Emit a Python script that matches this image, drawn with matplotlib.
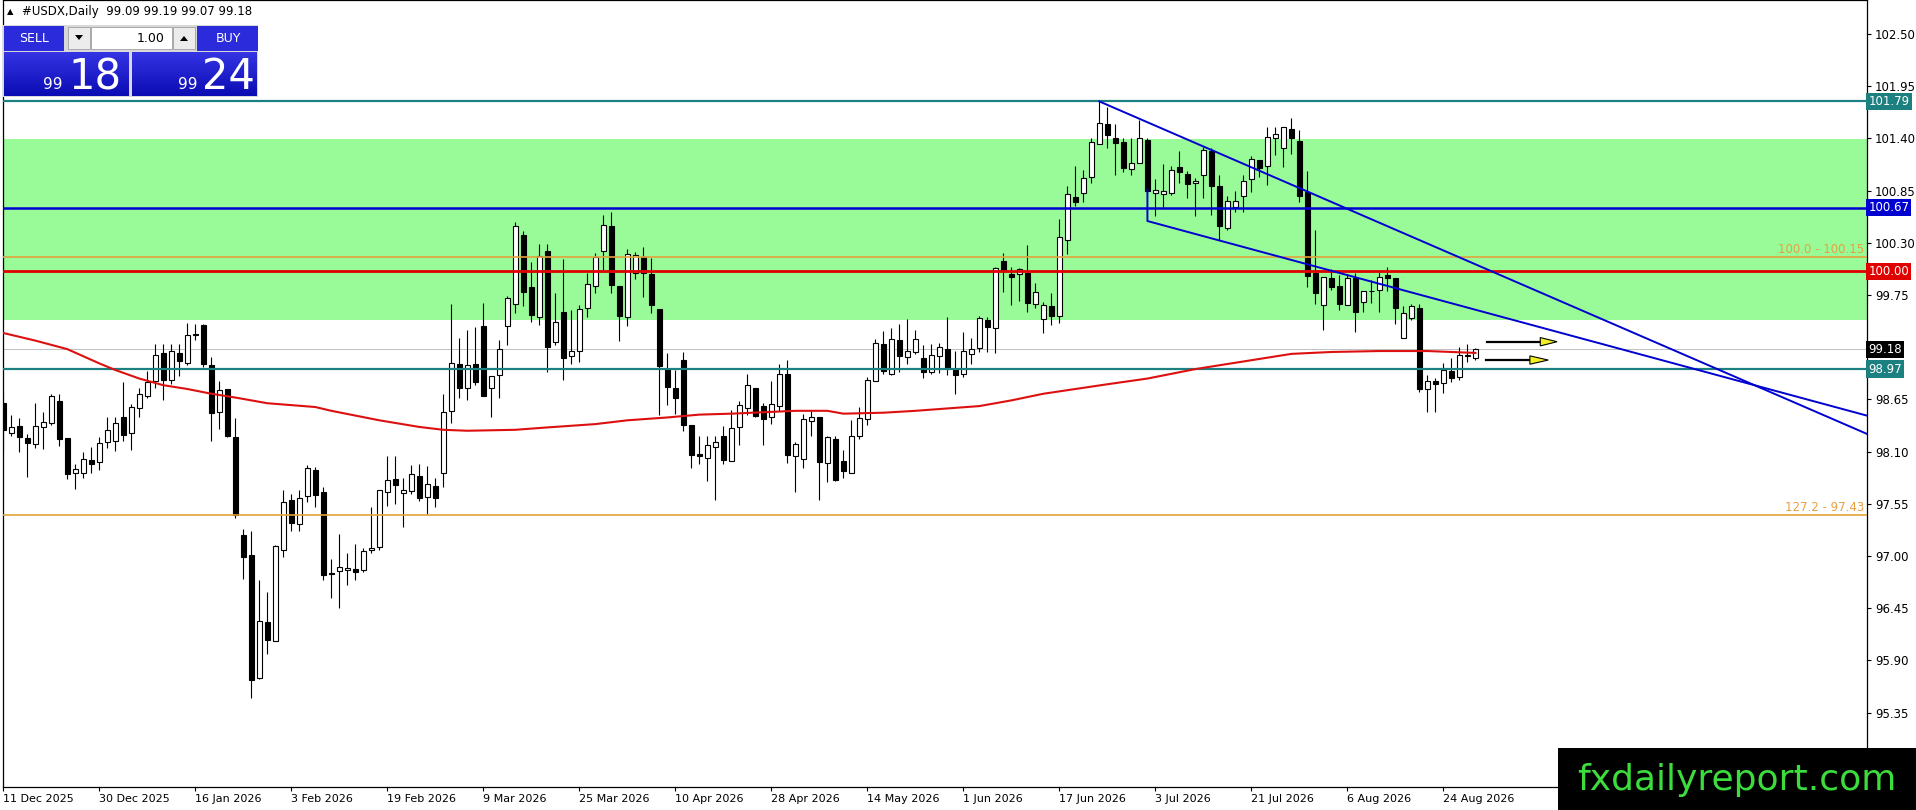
import numpy as np
import matplotlib
matplotlib.use("Agg")
import matplotlib.pyplot as plt
from matplotlib.patches import Rectangle, Polygon
from matplotlib.transforms import blended_transform_factory

# daily candles, oldest first
opens = [98.61, 98.30, 98.37, 98.24, 98.18, 98.36, 98.40, 98.63, 98.24, 97.87,
         97.88, 98.01, 97.99, 98.20, 98.21, 98.46, 98.30, 98.56, 98.69, 98.84,
         99.14, 98.86, 99.14, 99.03, 99.34, 99.43, 99.01, 98.52, 98.76, 98.25,
         97.22, 97.01, 95.71, 96.30, 96.10, 97.06, 97.59, 97.34, 97.63, 97.91,
         97.67, 96.82, 96.84, 96.85, 96.86, 96.85, 97.06, 97.09, 97.67, 97.81,
         97.66, 97.68, 97.84, 97.62, 97.74, 97.87, 98.53, 99.02, 98.77, 99.02,
         99.42, 98.77, 98.91, 99.42, 99.66, 100.38, 99.84, 99.52, 100.21, 99.26,
         99.57, 99.11, 99.16, 99.61, 99.85, 100.21, 100.48, 99.85, 99.52, 99.98,
         100.15, 99.97, 99.60, 98.97, 98.77, 99.07, 98.38, 98.08, 98.03, 98.15,
         98.26, 98.00, 98.36, 98.56, 98.77, 98.58, 98.46, 98.58, 98.92, 98.05,
         98.02, 98.42, 98.46, 97.98, 98.23, 98.00, 97.88, 98.26, 98.44, 98.84,
         99.23, 98.92, 99.28, 99.10, 99.15, 99.09, 98.94, 99.11, 99.18, 98.96,
         98.92, 99.13, 99.19, 99.49, 99.40, 100.11, 99.97, 99.97, 99.98, 99.66,
         99.50, 99.63, 99.53, 100.33, 100.78, 100.83, 100.99, 101.34, 101.55, 101.41,
         101.36, 101.08, 101.14, 101.38, 100.83, 100.81, 100.83, 101.10, 101.03, 100.93,
         101.02, 101.27, 100.90, 100.46, 100.68, 100.79, 100.97, 101.17, 101.11, 101.41,
         101.30, 101.50, 101.37, 100.84, 99.98, 99.65, 99.93, 99.85, 99.65, 99.93,
         99.68, 99.79, 99.80, 99.96, 99.93, 99.30, 99.51, 99.61, 98.76, 98.84,
         98.82, 98.95, 98.89, 99.11, 99.09]
highs = [98.73, 98.49, 98.45, 98.29, 98.61, 98.52, 98.71, 98.71, 98.24, 97.97,
         98.10, 98.15, 98.25, 98.47, 98.47, 98.83, 98.60, 98.77, 98.95, 99.23,
         99.23, 99.23, 99.23, 99.46, 99.45, 99.45, 99.10, 98.84, 98.76, 98.45,
         97.28, 97.26, 96.75, 96.62, 97.12, 97.70, 97.65, 97.70, 97.96, 97.94,
         97.73, 96.97, 97.23, 97.03, 97.13, 97.08, 97.52, 97.70, 98.05, 98.05,
         97.82, 97.96, 97.97, 97.95, 97.82, 98.71, 99.66, 99.30, 99.38, 99.41,
         99.67, 98.90, 99.28, 99.74, 100.52, 100.43, 100.10, 100.29, 100.29, 99.77,
         100.13, 99.59, 99.64, 99.98, 100.19, 100.59, 100.62, 99.85, 100.23, 100.20,
         100.26, 100.14, 99.60, 99.14, 98.96, 99.15, 98.38, 98.26, 98.26, 98.26,
         98.37, 98.54, 98.63, 98.92, 98.77, 98.61, 98.84, 99.02, 99.07, 98.20,
         98.50, 98.54, 98.46, 98.26, 98.26, 98.12, 98.43, 98.57, 98.89, 99.29,
         99.37, 99.40, 99.44, 99.50, 99.38, 99.22, 99.23, 99.24, 99.52, 99.16,
         99.36, 99.30, 99.53, 99.52, 100.05, 100.19, 100.05, 100.03, 100.28, 99.88,
         99.68, 99.77, 100.55, 100.90, 101.11, 101.07, 101.41, 101.79, 101.73, 101.55,
         101.40, 101.41, 101.59, 101.40, 100.97, 101.13, 101.11, 101.27, 101.06, 100.98,
         101.31, 101.30, 101.01, 100.79, 100.85, 101.01, 101.22, 101.17, 101.52, 101.52,
         101.52, 101.62, 101.49, 101.06, 100.44, 99.94, 100.02, 99.96, 99.97, 99.98,
         99.79, 99.91, 99.99, 100.05, 99.93, 99.63, 99.66, 99.66, 98.91, 98.88,
         99.03, 99.09, 99.20, 99.23, 99.19]
lows = [98.10, 98.26, 98.10, 97.83, 98.14, 98.13, 98.38, 98.16, 97.81, 97.71,
        97.82, 97.87, 97.91, 98.14, 98.11, 98.21, 98.12, 98.47, 98.66, 98.77,
        98.64, 98.81, 98.90, 99.01, 99.28, 98.99, 98.21, 98.34, 98.25, 97.40,
        96.76, 95.50, 95.70, 95.97, 96.10, 96.99, 97.26, 97.26, 97.57, 97.52,
        96.75, 96.56, 96.45, 96.69, 96.75, 96.83, 97.03, 97.06, 97.53, 97.55,
        97.31, 97.65, 97.58, 97.44, 97.52, 97.73, 98.40, 98.67, 98.64, 98.80,
        98.69, 98.46, 98.67, 99.22, 99.56, 99.63, 99.47, 99.43, 98.94, 99.22,
        98.85, 99.02, 99.04, 99.52, 99.77, 100.01, 99.77, 99.27, 99.42, 99.92,
        99.73, 99.56, 98.49, 98.59, 98.50, 98.32, 97.93, 97.97, 97.79, 97.59,
        97.97, 98.00, 98.17, 98.49, 98.47, 98.17, 98.39, 98.53, 97.98, 97.67,
        97.93, 98.26, 97.59, 97.78, 97.79, 97.82, 97.88, 98.23, 98.38, 98.84,
        98.92, 98.91, 98.94, 99.02, 99.13, 98.88, 98.92, 98.93, 98.91, 98.71,
        98.89, 99.02, 99.15, 99.15, 99.14, 99.78, 99.65, 99.69, 99.57, 99.61,
        99.35, 99.43, 99.46, 100.18, 100.69, 100.73, 100.93, 101.34, 101.30, 101.02,
        101.05, 101.02, 101.14, 100.80, 100.58, 100.68, 100.80, 100.93, 100.77, 100.58,
        100.77, 100.59, 100.33, 100.44, 100.62, 100.63, 100.84, 100.99, 100.91, 101.23,
        101.10, 101.24, 100.73, 99.83, 99.66, 99.38, 99.80, 99.59, 99.64, 99.36,
        99.57, 99.67, 99.57, 99.79, 99.45, 99.30, 99.49, 98.73, 98.52, 98.52,
        98.72, 98.83, 98.86, 99.04, 99.07]
closes = [98.33, 98.36, 98.25, 98.19, 98.37, 98.41, 98.69, 98.23, 97.86, 97.92,
          98.02, 97.97, 98.19, 98.33, 98.40, 98.28, 98.57, 98.71, 98.83, 99.12,
          98.86, 99.16, 99.05, 99.33, 99.33, 99.02, 98.51, 98.75, 98.26, 97.43,
          96.99, 95.69, 96.31, 96.11, 97.11, 97.57, 97.35, 97.61, 97.93, 97.64,
          96.80, 96.81, 96.88, 96.87, 96.83, 97.05, 97.08, 97.70, 97.80, 97.75,
          97.70, 97.86, 97.61, 97.76, 97.61, 98.52, 99.03, 98.77, 99.01, 98.83,
          98.69, 98.90, 99.18, 99.72, 100.48, 99.78, 99.54, 100.16, 99.20, 99.47,
          99.09, 99.16, 99.60, 99.87, 100.15, 100.49, 99.86, 99.53, 100.18, 100.17,
          99.98, 99.64, 99.00, 98.78, 98.67, 98.38, 98.06, 98.05, 98.17, 98.20,
          98.01, 98.35, 98.59, 98.80, 98.48, 98.44, 98.60, 98.92, 98.06, 98.18,
          98.44, 98.46, 97.99, 98.25, 97.80, 97.90, 98.26, 98.45, 98.85, 99.24,
          98.95, 99.29, 99.11, 99.16, 99.29, 98.94, 99.12, 99.20, 98.98, 98.91,
          99.16, 99.18, 99.51, 99.41, 100.04, 100.01, 99.94, 100.02, 99.67, 99.78,
          99.64, 99.53, 100.36, 100.81, 100.73, 100.98, 101.36, 101.56, 101.44, 101.35,
          101.09, 101.14, 101.40, 100.85, 100.86, 100.85, 101.07, 101.05, 100.92, 100.95,
          101.28, 100.90, 100.48, 100.74, 100.74, 100.95, 101.18, 101.09, 101.42, 101.45,
          101.52, 101.40, 100.79, 99.95, 99.77, 99.94, 99.83, 99.66, 99.93, 99.57,
          99.79, 99.79, 99.94, 99.93, 99.61, 99.56, 99.63, 98.76, 98.84, 98.81,
          98.96, 98.88, 99.12, 99.12, 99.18]

# red moving average, read at a few bars
ma_bars = [0, 4, 8, 12, 14, 17, 20, 23, 26, 29, 31, 33, 36, 39, 41, 44, 47, 52, 55,
           58, 64, 68, 74, 78, 83, 87, 91, 99, 103, 105, 110, 114, 122, 126, 130,
           134, 138, 143, 149, 155, 161, 166, 172, 178, 184]
ma_vals = [99.35, 99.27, 99.18, 99.03, 98.96, 98.87, 98.80, 98.76, 98.71, 98.67,
           98.64, 98.61, 98.59, 98.57, 98.53, 98.48, 98.43, 98.36, 98.33, 98.32,
           98.33, 98.355, 98.39, 98.43, 98.46, 98.49, 98.50, 98.53, 98.53, 98.50,
           98.51, 98.53, 98.58, 98.64, 98.71, 98.76, 98.81, 98.87, 98.97, 99.05,
           99.13, 99.15, 99.16, 99.16, 99.14]

date_labels = ["11 Dec 2025", "30 Dec 2025", "16 Jan 2026", "3 Feb 2026",
               "19 Feb 2026", "9 Mar 2026", "25 Mar 2026", "10 Apr 2026",
               "28 Apr 2026", "14 May 2026", "1 Jun 2026", "17 Jun 2026",
               "3 Jul 2026", "21 Jul 2026", "6 Aug 2026", "24 Aug 2026"]
price_ticks = [102.50, 101.95, 101.40, 100.85, 100.30, 99.75, 99.20, 98.65,
               98.10, 97.55, 97.00, 96.45, 95.90, 95.35]

# drawn objects
zone_low, zone_high = 99.49, 101.39
level_top, level_blue, level_red, level_bottom = 101.79, 100.67, 100.00, 98.97
fib_100, fib_127 = 100.15, 97.43
bid_price = 99.18
trend_upper = [(137, 101.79), (232.9, 98.288)]
trend_lower = [(143, 100.86), (143, 100.53), (232.9, 98.48)]
arrows = [(185.5, 192.1, 194.2, 99.258), (185.3, 190.8, 193.1, 99.065)]

W, H = 1916, 810
TEAL = "#1d8080"
BLUE = "#0000d0"
RED = "#e00000"
ORANGE = "#e3a23c"


def draw_candles(ax):
  x = np.arange(len(opens))
  o = np.array(opens)
  c = np.array(closes)
  up = c >= o
  ax.vlines(x, lows, highs, color="black", lw=0.8, zorder=3)
  bottom = np.minimum(o, c)
  height = np.abs(c - o)
  ax.bar(x[up], height[up], bottom=bottom[up], width=0.62, color="white",
         edgecolor="black", linewidth=0.8, zorder=4)
  ax.bar(x[~up], height[~up], bottom=bottom[~up], width=0.62, color="black",
         edgecolor="black", linewidth=0.8, zorder=4)


def draw_objects(ax):
  ax.axhspan(zone_low, zone_high, color="#98fb98", lw=0, zorder=0)
  ax.axhline(level_top, color=TEAL, lw=1.6, zorder=5)
  ax.axhline(level_blue, color=BLUE, lw=1.8, zorder=5)
  ax.axhline(fib_100, color=ORANGE, lw=1.2, zorder=5)
  ax.axhline(level_red, color=RED, lw=2.0, zorder=5)
  ax.axhline(bid_price, color="#c0c0c0", lw=0.7, zorder=2)
  ax.axhline(level_bottom, color=TEAL, lw=1.6, zorder=5)
  ax.axhline(fib_127, color=ORANGE, lw=1.2, zorder=5)

  ax.plot(ma_bars, ma_vals, color="#dd1010", lw=1.5, zorder=6)

  for line in (trend_upper, trend_lower):
    xs = [p[0] for p in line]
    ys = [p[1] for p in line]
    ax.plot(xs, ys, color=BLUE, lw=1.4, zorder=6)

  for x0, x1, x2, y in arrows:
    ax.plot([x0, x1], [y, y], color="black", lw=1.6, zorder=7)
    tri = Polygon([(x1, y + 0.044), (x1, y - 0.044), (x2, y)], closed=True,
                  facecolor="#f4f020", edgecolor="black", lw=0.8, zorder=8)
    ax.add_patch(tri)

  tr = blended_transform_factory(ax.transAxes, ax.transData)
  ax.text(0.9985, fib_100 + 0.01, "100.0 - 100.15", transform=tr, ha="right",
          va="bottom", color="#e8a040", fontsize=8.5, zorder=7)
  ax.text(0.9985, fib_127 + 0.01, "127.2 - 97.43", transform=tr, ha="right",
          va="bottom", color="#e8a040", fontsize=8.5, zorder=7)

  # coloured price boxes on the right scale
  boxes = [(level_top, TEAL, "white"), (level_blue, BLUE, "white"),
           (level_red, RED, "white"), (bid_price, "black", "white"),
           (level_bottom, TEAL, "white")]
  for price, bg, fg in boxes:
    ax.annotate("%.2f" % price, xy=(1, price), xycoords=("axes fraction", "data"),
                xytext=(1.2, 0), textcoords="offset points", ha="left",
                va="center", color=fg, fontsize=8.5, annotation_clip=False,
                bbox=dict(boxstyle="square,pad=0.18", fc=bg, ec="none"),
                zorder=9)


def draw_panel(ov):
  ov.text(7, 12, "\u25b2", fontsize=6, va="center", ha="left", color="black")
  ov.text(22, 12, "#USDX,Daily  99.09 99.19 99.07 99.18", fontsize=8.5,
          va="center", ha="left", color="black")

  ov.add_patch(Rectangle((3, 25), 255, 72, fc="#d8d8d8", ec="none"))
  ov.add_patch(Rectangle((4, 26), 60, 25, fc="#2b2bdc", ec="none"))
  ov.add_patch(Rectangle((197, 26), 61, 25, fc="#2b2bdc", ec="none"))
  ov.text(34, 39, "SELL", color="white", fontsize=9, ha="center", va="center")
  ov.text(228, 39, "BUY", color="white", fontsize=9, ha="center", va="center")

  for bx in (68, 173):
    ov.add_patch(Rectangle((bx, 27), 22, 22, fc="#ececec", ec="#a0a0a0", lw=0.6))
  ov.add_patch(Polygon([(75, 35), (83, 35), (79, 40)], fc="black", ec="none"))
  ov.add_patch(Polygon([(180, 41), (188, 41), (184, 36)], fc="black", ec="none"))
  ov.add_patch(Rectangle((91, 27), 81, 22, fc="white", ec="#a0a0a0", lw=0.6))
  ov.text(165, 38, "1.00", fontsize=9, ha="right", va="center", color="black")

  grad = np.linspace(0, 1, 50).reshape(-1, 1)
  cmap = matplotlib.colors.LinearSegmentedColormap.from_list(
      "mt4", ["#3434e4", "#0c0cb4"])
  for x0 in (4, 132):
    ov.imshow(grad, cmap=cmap, aspect="auto", origin="upper",
              extent=(x0, x0 + 125, 96, 52), zorder=2)
  ov.text(63, 89, "99", color="white", fontsize=11, ha="right", va="baseline",
          zorder=3)
  ov.text(68, 89, "18", color="white", fontsize=30, ha="left", va="baseline",
          zorder=3)
  ov.text(198, 89, "99", color="white", fontsize=11, ha="right", va="baseline",
          zorder=3)
  ov.text(202, 89, "24", color="white", fontsize=30, ha="left", va="baseline",
          zorder=3)

  ov.add_patch(Rectangle((1558, 748), 358, 62, fc="black", ec="none", zorder=4))
  ov.text(1737, 780, "fxdailyreport.com", color="#3ddc3d", fontsize=26,
          ha="center", va="center", zorder=5)


def run():
  fig = plt.figure(figsize=(W / 100, H / 100), dpi=100)
  ax = fig.add_axes([2.7 / W, 23 / H, (1866.7 - 2.7) / W, 787 / H])
  draw_objects(ax)
  draw_candles(ax)

  ax.set_xlim(-0.075, 232.9)
  ax.set_ylim(94.566, 102.859)
  ax.yaxis.tick_right()
  ax.set_yticks(price_ticks)
  # the 99.20 label sits under the bid box on the scale
  ax.set_yticklabels(["" if p == 99.20 else "%.2f" % p for p in price_ticks])
  ax.tick_params(axis="y", direction="out", length=3, width=0.8, pad=3,
                 labelsize=8.5, right=True, left=False)
  ax.set_xticks(list(range(0, 12 * len(date_labels), 12)))
  ax.set_xticklabels(date_labels)
  ax.tick_params(axis="x", direction="out", length=3, width=0.8, pad=2,
                 labelsize=8)
  for lab in ax.get_xticklabels():
    lab.set_horizontalalignment("left")
  for s in ax.spines.values():
    s.set_linewidth(0.9)

  ov = fig.add_axes([0, 0, 1, 1], zorder=10)
  ov.patch.set_alpha(0)
  draw_panel(ov)
  ov.set_xlim(0, W)
  ov.set_ylim(H, 0)
  ov.axis("off")

  fig.savefig("out.png", dpi=100)


run()
